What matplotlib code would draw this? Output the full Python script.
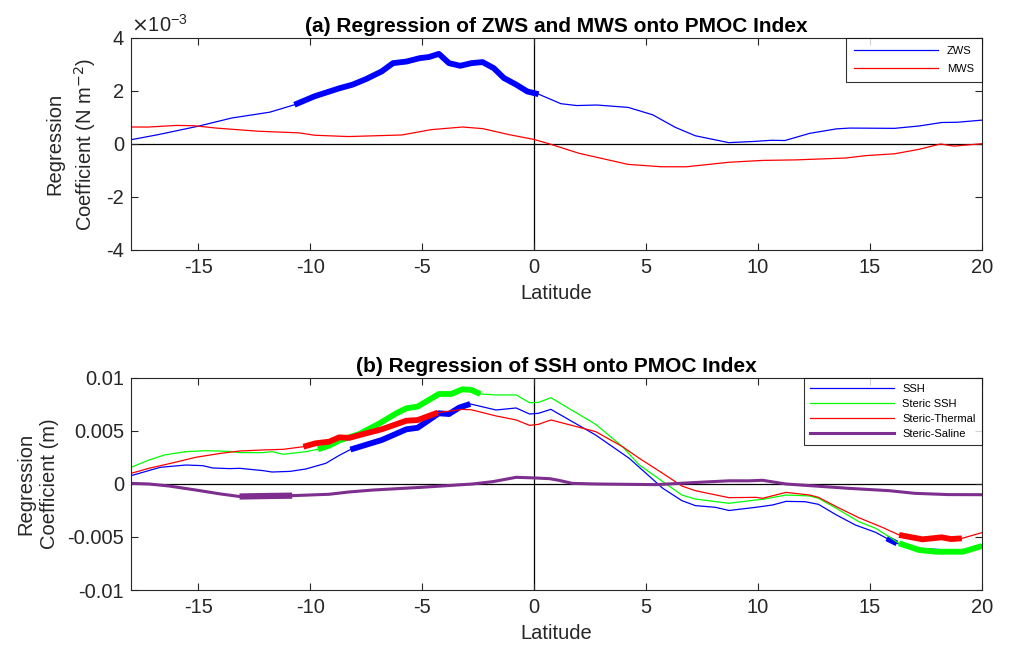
import matplotlib; matplotlib.use('agg')
import matplotlib.pyplot as plt
import matplotlib.ticker as mticker
import numpy as np

plt.rcParams['font.family'] = ['Liberation Sans', 'DejaVu Sans']
plt.rcParams['axes.unicode_minus'] = False

# ---- panel (a): wind stress regression (N m^-2) ----
zws_lat = [-18, -16.8, -15, -13.5, -11.8, -10.7, -9.8, -8.7, -8.1, -7.5, -6.8, -6.3,
           -5.7, -5.1, -4.7, -4.25, -3.8, -3.3, -2.8, -2.3, -1.8, -1.35, -0.8, -0.3,
           0.2, 1.2, 1.9, 2.8, 4.2, 5.3, 6.3, 7.2, 8.7, 9.9, 10.6, 11.2, 12.3, 13.5,
           14.1, 16.1, 17.2, 18.2, 18.9, 20]
zws = np.array([0.16, 0.35, 0.67, 0.98, 1.2, 1.48, 1.8, 2.1, 2.24, 2.45, 2.74, 3.05,
                3.11, 3.24, 3.28, 3.4, 3.05, 2.95, 3.05, 3.09, 2.86, 2.49, 2.24, 1.98,
                1.88, 1.52, 1.45, 1.47, 1.38, 1.1, 0.63, 0.31, 0.05, 0.1, 0.14, 0.13,
                0.4, 0.57, 0.6, 0.59, 0.68, 0.81, 0.82, 0.9]) * 1e-3
zws_sig = [(-10.7, 0.2)]

mws_lat = [-18, -17.2, -16, -15.2, -14.2, -12.3, -10.5, -9.8, -8.3, -7.1, -5.9, -4.6,
           -3.2, -2.3, -1.1, 0, 0.7, 2.0, 4.2, 5.7, 6.8, 8.7, 10.2, 11.7, 13.9, 14.8,
           16.1, 17.2, 18.15, 18.75, 20]
mws = np.array([0.64, 0.64, 0.7, 0.69, 0.6, 0.48, 0.42, 0.33, 0.28, 0.31, 0.34, 0.54,
                0.64, 0.58, 0.35, 0.17, 0.0, -0.35, -0.77, -0.86, -0.86, -0.69, -0.62,
                -0.6, -0.53, -0.44, -0.37, -0.2, 0.0, -0.08, 0.01]) * 1e-3
mws_sig = []

# ---- panel (b): sea surface height regression (m) ----
ssh_lat = [-18, -16.7, -15.55, -14.8, -14.35, -13.6, -13.15, -12.1, -11.7, -10.9, -10.2,
           -9.3, -8.7, -8.2, -6.8, -5.7, -5.2, -4.25, -3.8, -3.35, -2.85, -1.7, -0.8,
           -0.2, 0.2, 0.75, 2.75, 4.25, 5.75, 6.6, 7.2, 8.1, 8.7, 9.9, 10.65, 11.25,
           12.1, 12.7, 13.5, 14.35, 15.25, 15.75, 16.2, 17.2, 18.5, 19.25, 20]
ssh = np.array([0.78, 1.57, 1.79, 1.73, 1.51, 1.45, 1.48, 1.26, 1.13, 1.19, 1.41,
                1.95, 2.7, 3.25, 4.15, 5.16, 5.3, 6.67, 6.6, 7.2, 7.55, 6.98, 7.17,
                6.6, 6.67, 7.04, 4.62, 2.42, -0.41, -1.57, -2.04, -2.2, -2.5, -2.2,
                -1.98, -1.64, -1.67, -1.92, -2.92, -3.87, -4.56, -5.13, -5.6, -6.07,
                -6.23, -6.17, -5.75]) * 1e-3
ssh_sig = [(-8.2, -2.85), (15.75, 16.2)]

steric_lat = [-18, -17.2, -16.5, -15.55, -14.65, -13.6, -13.15, -12.1, -11.7, -11.2,
              -10.2, -9.65, -9.15, -8.7, -7.8, -6.9, -6.15, -5.7, -5.2, -4.25, -3.7,
              -3.2, -2.8, -2.4, -1.7, -0.8, -0.2, 0.2, 0.75, 2.75, 3.95, 4.7, 5.75,
              6.6, 7.2, 8.7, 9.9, 10.2, 11.25, 12.3, 12.7, 13.5, 14.5, 15.25, 15.85,
              16.3, 17.2, 17.95, 19.15, 20]
steric = np.array([1.57, 2.26, 2.74, 3.05, 3.14, 3.08, 2.96, 2.96, 3.05, 2.8, 3.05,
                   3.27, 3.62, 4.1, 4.72, 5.72, 6.67, 7.14, 7.3, 8.49, 8.49, 8.93,
                   8.87, 8.49, 8.4, 8.4, 7.67, 7.7, 8.14, 5.63, 3.52, 1.79, 0.22,
                   -1.04, -1.42, -1.82, -1.51, -1.45, -1.04, -1.13, -1.35, -2.3,
                   -3.55, -4.18, -4.97, -5.6, -6.23, -6.39, -6.39, -5.85]) * 1e-3
steric_sig = [(-9.65, -2.4), (16.2, 20)]

thermal_lat = [-18, -17.2, -16.1, -15.1, -14.0, -13.15, -12.1, -11.2, -10.3, -9.75,
               -9.15, -8.7, -8.25, -7.5, -6.8, -5.7, -5.2, -4.3, -3.2, -2.8, -1.7,
               -0.8, -0.2, 0.2, 0.75, 2.75, 3.95, 4.7, 5.75, 6.6, 7.2, 8.7, 9.9, 10.2,
               11.25, 12.3, 12.7, 13.5, 14.5, 15.55, 16.3, 17.35, 18.2, 18.6, 19.1, 20]
thermal = np.array([1.0, 1.48, 2.01, 2.52, 2.89, 3.11, 3.21, 3.27, 3.52, 3.84, 3.99,
                    4.4, 4.35, 4.78, 5.16, 5.97, 6.03, 6.73, 7.04, 7.0, 6.42, 6.04,
                    5.53, 5.63, 6.04, 4.94, 3.52, 2.42, 1.0, -0.19, -0.63, -1.29,
                    -1.26, -1.35, -0.79, -1.04, -1.26, -2.14, -3.18, -4.09, -4.81,
                    -5.22, -5.03, -5.19, -5.13, -4.59]) * 1e-3
thermal_sig = [(-10.3, -4.3), (16.3, 19.1)]

saline_lat = [-18, -17.2, -16.3, -15.1, -14.0, -13.15, -11.8, -10.8, -9.15, -8.25,
              -7.2, -5.0, -2.75, -1.85, -0.8, 0.05, 0.7, 1.1, 1.7, 2.75, 5.45, 6.5,
              7.65, 8.7, 9.6, 10.2, 11.25, 14.05, 15.85, 17.0, 18.5, 20]
saline = np.array([0.06, 0.0, -0.19, -0.57, -0.94, -1.18, -1.13, -1.1, -0.97, -0.75,
                   -0.57, -0.31, 0.0, 0.22, 0.63, 0.57, 0.5, 0.35, 0.06, 0.0, -0.06,
                   0.06, 0.19, 0.3, 0.3, 0.35, 0.0, -0.41, -0.63, -0.88, -1.0,
                   -1.01]) * 1e-3
saline_sig = [(-13.15, -10.8)]

BLUE = (0, 0, 1)
RED = (1, 0, 0)
GREEN = (0, 1, 0)
PURPLE = (0.49, 0.18, 0.56)
AXCOL = '#262626'
FS = 14.5


def plot_series(ax, lat, val, sig, color, label, lw=0.9, lw_sig=4.2):
    lat = np.asarray(lat)
    ax.plot(lat, val, color=color, lw=lw, label=label)
    for lo, hi in sig:
        m = (lat >= lo - 1e-6) & (lat <= hi + 1e-6)
        ax.plot(lat[m], val[m], color=color, lw=lw_sig, solid_capstyle='butt')


def style_axes(ax, title):
    ax.set_xlim(-18, 20)
    ax.set_xticks(np.arange(-15, 21, 5))
    ax.axhline(0, color='k', lw=0.9, zorder=0.5)
    ax.axvline(0, color='k', lw=0.9, zorder=0.5)
    ax.tick_params(direction='in', top=True, right=True, labelsize=FS,
                   colors=AXCOL, length=5, width=0.8, pad=5)
    ax.tick_params(axis='x', pad=6)
    for s in ax.spines.values():
        s.set_color(AXCOL)
        s.set_linewidth(0.8)
    ax.set_xlabel('Latitude', fontsize=FS, color=AXCOL, labelpad=5)
    ax.set_title(title, fontsize=15, fontweight='bold', pad=4)


fig = plt.figure(figsize=(10.09, 6.49), dpi=100)
ax1 = fig.add_axes([0.1298, 0.6148, 0.8434, 0.3267])
ax2 = fig.add_axes([0.1298, 0.0909, 0.8434, 0.3267])

plot_series(ax1, zws_lat, zws, zws_sig, BLUE, 'ZWS')
plot_series(ax1, mws_lat, mws, mws_sig, RED, 'MWS')
style_axes(ax1, '(a) Regression of ZWS and MWS onto PMOC Index')
ax1.set_ylim(-4e-3, 4e-3)
ax1.set_yticks(np.arange(-4e-3, 4.1e-3, 2e-3))
ax1.yaxis.set_major_formatter(mticker.FuncFormatter(lambda v, p: '%g' % round(v * 1e3, 3)))
ax1.text(0.0, 1.012, r'$\times\mathregular{10^{-3}}$', transform=ax1.transAxes,
         fontsize=FS, color=AXCOL, ha='left', va='bottom')
ax1.set_ylabel('Regression\nCoefficient (N m$^{-2}$)', fontsize=FS, color=AXCOL,
               linespacing=1.4, labelpad=6)
leg1 = ax1.legend(loc='upper right', fontsize=8, handlelength=7.5,
                  borderaxespad=0, fancybox=False, edgecolor='k',
                  labelspacing=0.65, borderpad=0.75)
leg1.get_frame().set_linewidth(0.8)

plot_series(ax2, ssh_lat, ssh, ssh_sig, BLUE, 'SSH')
plot_series(ax2, steric_lat, steric, steric_sig, GREEN, 'Steric SSH')
plot_series(ax2, thermal_lat, thermal, thermal_sig, RED, 'Steric-Thermal')
plot_series(ax2, saline_lat, saline, saline_sig, PURPLE, 'Steric-Saline',
            lw=2.2, lw_sig=4.5)
style_axes(ax2, '(b) Regression of SSH onto PMOC Index')
ax2.set_ylim(-0.01, 0.01)
ax2.set_yticks([-0.01, -0.005, 0, 0.005, 0.01])
ax2.yaxis.set_major_formatter(mticker.FuncFormatter(lambda v, p: '%g' % round(v, 4)))
ax2.set_ylabel('Regression\nCoefficient (m)', fontsize=FS, color=AXCOL,
               linespacing=1.3, labelpad=6)
leg2 = ax2.legend(loc='upper right', fontsize=8, handlelength=7.5,
                  borderaxespad=0, fancybox=False, edgecolor='k',
                  labelspacing=0.45, borderpad=0.55)
leg2.get_frame().set_linewidth(0.8)

fig.savefig('out.png', dpi=100)
